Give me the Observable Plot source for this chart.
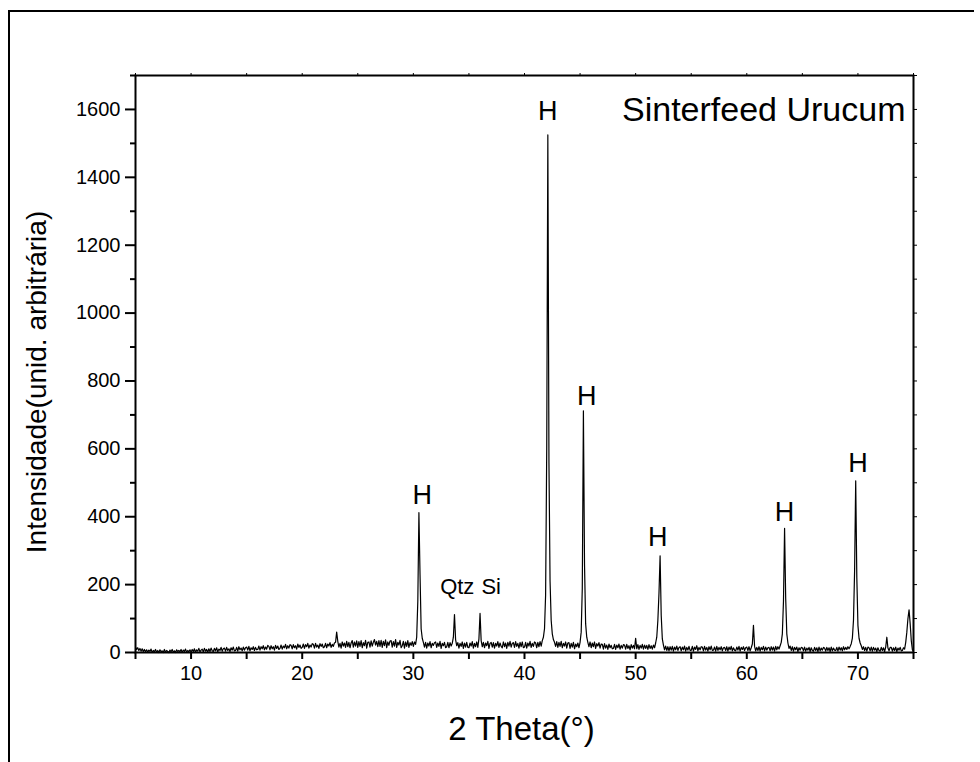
<!DOCTYPE html>
<html><head><meta charset="utf-8">
<script src="https://cdn.jsdelivr.net/npm/d3@7"></script>
<script src="https://cdn.jsdelivr.net/npm/@observablehq/plot@0.6"></script>
<style>
html,body{margin:0;padding:0;background:#fff;overflow:hidden;}
#wrap{position:relative;width:980px;height:762px;overflow:hidden;background:#fff;}
#topline{position:absolute;left:8px;top:10px;width:966px;height:2px;background:#000;}
#leftline{position:absolute;left:8px;top:10px;width:2px;height:752px;background:#000;}
#chart{position:absolute;left:0;top:0;}
</style></head><body>
<div id="wrap"><div id="topline"></div><div id="leftline"></div><div id="chart"></div></div>
<script>
// XRD scan: 2θ from 5.0° to 75.0° in 0.1° steps
const scanStart = 5;
const scanStep = 0.1;
const intensity = [
  16,9,14,6,12,4,11,3,9,2,8,1,7,3,10,0,6,2,9,1,6,0,8,2,5,0,9,1,6,3,0,7,2,9,1,5,0,8,3,6,2,9,0,7,3,10,1,6,2,8,
  1,9,3,11,0,8,4,12,2,7,10,2,12,4,9,1,11,3,13,5,3,12,5,14,2,10,6,15,4,11,13,4,15,6,11,3,14,7,16,5,6,15,4,17,8,13,5,16,7,14,
  16,7,18,5,14,9,17,6,15,8,9,19,7,17,11,20,8,16,10,21,18,8,20,11,17,7,21,12,19,9,12,22,10,19,14,24,11,20,13,23,21,11,23,14,20,10,25,15,22,12,
  15,25,12,23,17,27,13,22,16,26,24,13,27,16,22,12,26,18,25,14,17,27,14,25,19,29,15,24,18,28,30,60,33,16,27,13,31,19,28,15,33,17,30,14,28,35,16,31,19,34,
  15,32,18,35,14,29,20,36,13,30,31,16,34,19,30,38,22,33,17,35,18,36,15,33,20,37,14,31,21,34,35,16,32,19,38,15,30,22,36,14,20,33,13,31,18,35,15,29,21,32,
  18,31,24,45,150,412,230,70,42,30,16,30,13,28,19,32,14,27,21,29,31,15,28,18,33,12,27,20,30,14,17,30,14,29,19,27,45,112,38,20,29,13,27,18,31,12,28,16,30,15,
  14,28,19,32,13,27,17,31,15,40,115,35,17,30,14,28,20,33,12,27,30,16,29,13,27,19,32,15,28,18,14,31,17,28,12,30,19,33,16,27,29,15,32,18,27,13,30,17,31,14,
  16,30,13,28,19,33,15,27,18,31,28,14,30,17,32,19,35,45,70,170,600,1525,560,210,95,55,38,30,18,32,15,30,18,33,14,27,19,31,13,28,29,12,27,16,30,11,25,17,28,14,
  30,60,190,712,260,85,45,30,17,31,14,28,17,31,12,26,19,29,13,25,24,10,26,13,22,9,25,14,21,11,12,24,9,22,14,25,10,21,13,23,22,10,24,12,20,8,23,13,21,11,
  42,11,23,9,21,13,24,10,22,12,21,9,23,12,20,10,22,14,28,45,95,175,285,110,40,22,8,19,6,17,5,17,7,18,4,16,8,19,6,15,17,5,16,8,19,4,15,7,18,6,
  6,18,4,16,9,20,5,15,8,17,16,5,18,7,15,4,17,8,19,6,7,16,4,18,6,15,8,17,5,14,15,6,17,4,16,8,18,5,14,7,5,16,7,18,4,15,9,17,6,14,
  16,6,17,5,14,25,80,18,5,15,6,17,4,15,8,18,5,16,7,14,15,5,17,7,16,4,18,8,17,10,20,30,55,150,366,160,55,28,12,19,6,17,4,15,8,16,3,14,7,15,
  14,5,16,4,13,7,15,3,14,6,4,15,6,14,3,16,5,13,7,15,13,4,15,6,14,3,16,5,13,7,6,15,4,16,7,14,5,17,8,15,9,17,11,18,26,42,95,240,506,220,
  80,42,28,20,9,17,6,15,4,16,14,5,16,4,15,7,13,3,14,6,4,15,6,14,3,16,45,13,5,15,15,4,14,6,16,3,13,7,15,5,6,14,10,30,60,100,126,85,35,8,
  2
];
const peakLabels = ["H", "Qtz", "Si", "H", "H", "H", "H", "H"];
const labelTheta = [30.8, 33.95, 37.0, 42.1, 45.6, 52.0, 63.4, 70.0];
const labelCounts = [462, 194, 194, 1595, 756, 338, 412, 556];
const xTicks = [10, 20, 30, 40, 50, 60, 70];
const xMinorTicks = [5, 15, 25, 35, 45, 55, 65, 75];
const xTopTicks = [5, 10, 15, 20, 25, 30, 35, 40, 45, 50, 55, 60, 65, 70, 75];
const yTicks = [0, 200, 400, 600, 800, 1000, 1200, 1400, 1600];
const yMinorTicks = [100, 300, 500, 700, 900, 1100, 1300, 1500, 1700];
const yRightTicks = [0, 100, 200, 300, 400, 500, 600, 700, 800, 900, 1000, 1100, 1200, 1300, 1400, 1500, 1600, 1700];
const title = "Sinterfeed Urucum";
const xLabel = "2 Theta(°)";
const yLabel = "Intensidade(unid. arbitrária)";
const scan = intensity.map((v, i) => ({theta: scanStart + i * scanStep, counts: v}));
const labels = peakLabels.map((t, i) => ({text: t, theta: labelTheta[i], counts: labelCounts[i]}));
const blank = () => "";
const plain = d => String(d);
const chart = Plot.plot({
  width: 980, height: 762, marginLeft: 135, marginRight: 67, marginTop: 75, marginBottom: 110,
  style: {fontFamily: "'Liberation Sans', Arial, sans-serif", background: "transparent", color: "#000", overflow: "hidden"},
  x: {domain: [5, 75]}, y: {domain: [0, 1700]},
  marks: [
    Plot.line(scan, {x: "theta", y: "counts", stroke: "#000", strokeWidth: 1.2}),
    Plot.axisX({ticks: xMinorTicks, tickSize: 7, tickFormat: blank, label: null, strokeWidth: 2}),
    Plot.axisX({ticks: xTicks, tickSize: 7, tickPadding: 6, tickFormat: plain, fontSize: 20, label: null, strokeWidth: 2}),
    Plot.axisX({anchor: "top", ticks: xTopTicks, tickSize: 3, tickFormat: blank, label: null, strokeWidth: 1}),
    Plot.axisY({ticks: yTicks, tickSize: 10, tickPadding: 5, tickFormat: plain, fontSize: 20, label: null, strokeWidth: 2}),
    Plot.axisY({ticks: yMinorTicks, tickSize: 5, tickFormat: blank, label: null, strokeWidth: 2}),
    Plot.axisY({anchor: "right", ticks: yRightTicks, tickSize: 3, tickFormat: blank, label: null, strokeWidth: 1}),
    Plot.frame({stroke: "#000", strokeWidth: 2}),
    Plot.text(labels.filter(d => d.text === "H"), {x: "theta", y: "counts", text: "text", fontSize: 27, lineAnchor: "middle", fill: "#000"}),
    Plot.text(labels.filter(d => d.text !== "H"), {x: "theta", y: "counts", text: "text", fontSize: 22, lineAnchor: "middle", fill: "#000"}),
    Plot.text([title], {text: d => d, frameAnchor: "top-right", dx: -8, dy: 35, fontSize: 34, textAnchor: "end", lineAnchor: "middle", fill: "#000"}),
    Plot.text([xLabel], {text: d => d, frameAnchor: "bottom", dx: -3, dy: 77, fontSize: 33, textAnchor: "middle", lineAnchor: "middle", fill: "#000"}),
    Plot.text([yLabel], {text: d => d, frameAnchor: "left", dx: -98, dy: 18, rotate: -90, fontSize: 28, textAnchor: "middle", lineAnchor: "middle", fill: "#000"})
  ]
});
document.getElementById("chart").appendChild(chart);
</script>
</body></html>
